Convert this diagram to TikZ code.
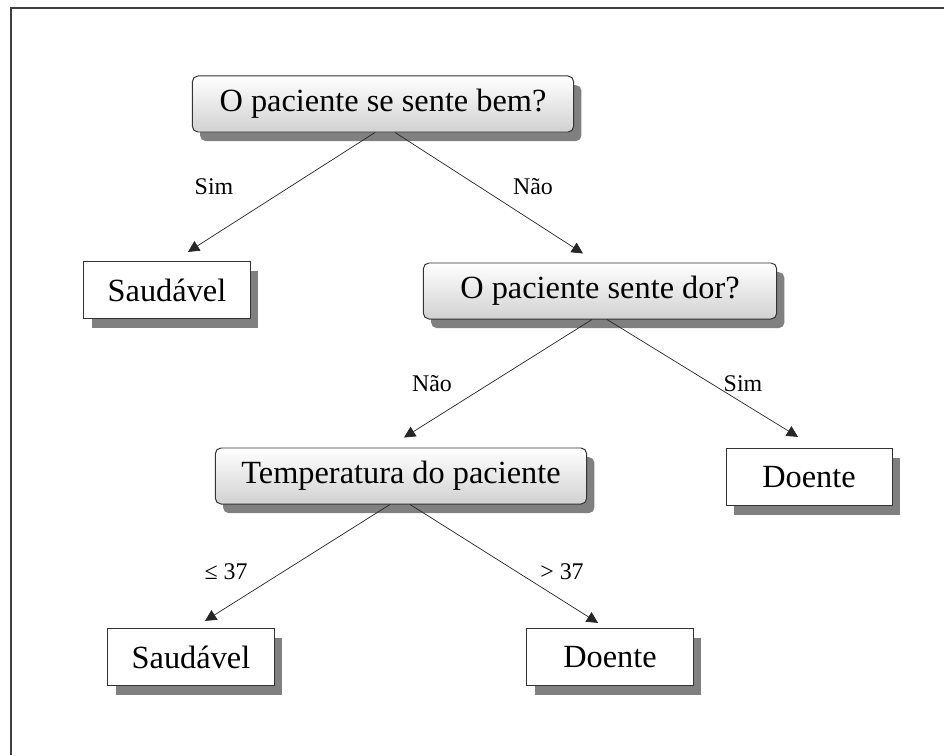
\documentclass[tikz,border=0pt]{standalone}
\usepackage{fontspec}
\setmainfont{Liberation Serif}
\usepackage{tikz}
\usetikzlibrary{arrows.meta,shadows}

\begin{document}
\begin{tikzpicture}[
  x=0.025cm, y=-0.025cm,
  quest/.style={draw=black!80, line width=0.7pt, rounded corners=4pt,
                top color=white, bottom color=black!18,
                minimum height=1.4cm, inner sep=0pt, font=\fontsize{23}{28}\selectfont,
                drop shadow={shadow xshift=5.5pt, shadow yshift=-6.5pt, fill=black!50, opacity=1}},
  leaf/.style={draw=black!80, line width=0.7pt, fill=white, minimum width=4.15cm,
               minimum height=1.43cm, inner sep=0pt, font=\fontsize{23}{28}\selectfont,
               drop shadow={shadow xshift=5.5pt, shadow yshift=-6.5pt, fill=black!50, opacity=1}},
  arr/.style={-{Triangle[length=8pt, width=8pt]}, black!85, line width=0.5pt},
  lbl/.style={font=\fontsize{17}{20}\selectfont}
]
  \useasboundingbox (0,0) rectangle (944,755);
  % frame
  \draw[black!75, line width=1.4pt] (11,755) -- (11,8) -- (944,8);

  \node[quest, minimum width=9.53cm] (bem)  at (383,104) {O paciente se sente bem?};
  \node[leaf]                        (sau1) at (167,290) {Saudável};
  \node[quest, minimum width=8.83cm] (dor)  at (600,291) {O paciente sente dor?};
  \node[quest, minimum width=9.28cm] (temp) at (401,476) {Temperatura do paciente};
  \node[leaf]                        (doe1) at (809,477) {Doente};
  \node[leaf]                        (sau2) at (191,657) {Saudável};
  \node[leaf]                        (doe2) at (610,657) {Doente};

  \draw[arr] ([shift={(-8,0)}]bem.south)  -- ([shift={(21,-9)}]sau1.north);
  \draw[arr] ([shift={(12,0)}]bem.south)  -- ([shift={(-17,-9)}]dor.north);
  \draw[arr] ([shift={(-8,0)}]dor.south)  -- ([shift={(3,-10)}]temp.north);
  \draw[arr] ([shift={(7,0)}]dor.south)   -- ([shift={(-11,-11)}]doe1.north);
  \draw[arr] ([shift={(-11,0)}]temp.south) -- ([shift={(14,-7)}]sau2.north);
  \draw[arr] ([shift={(9,0)}]temp.south)  -- ([shift={(-12,-5)}]doe2.north);

  \node[lbl] (sim1) at (214,187) {Sim};
  \node[lbl] (nao1) at (533,187) {Não};
  \node[lbl] (nao2) at (432,384) {Não};
  \node[lbl] (sim2) at (743,384) {Sim};
  \node[lbl] (le)   at (226,572) {≤ 37};
  \node[lbl] (gt)   at (562,572) {> 37};
\end{tikzpicture}
\end{document}
